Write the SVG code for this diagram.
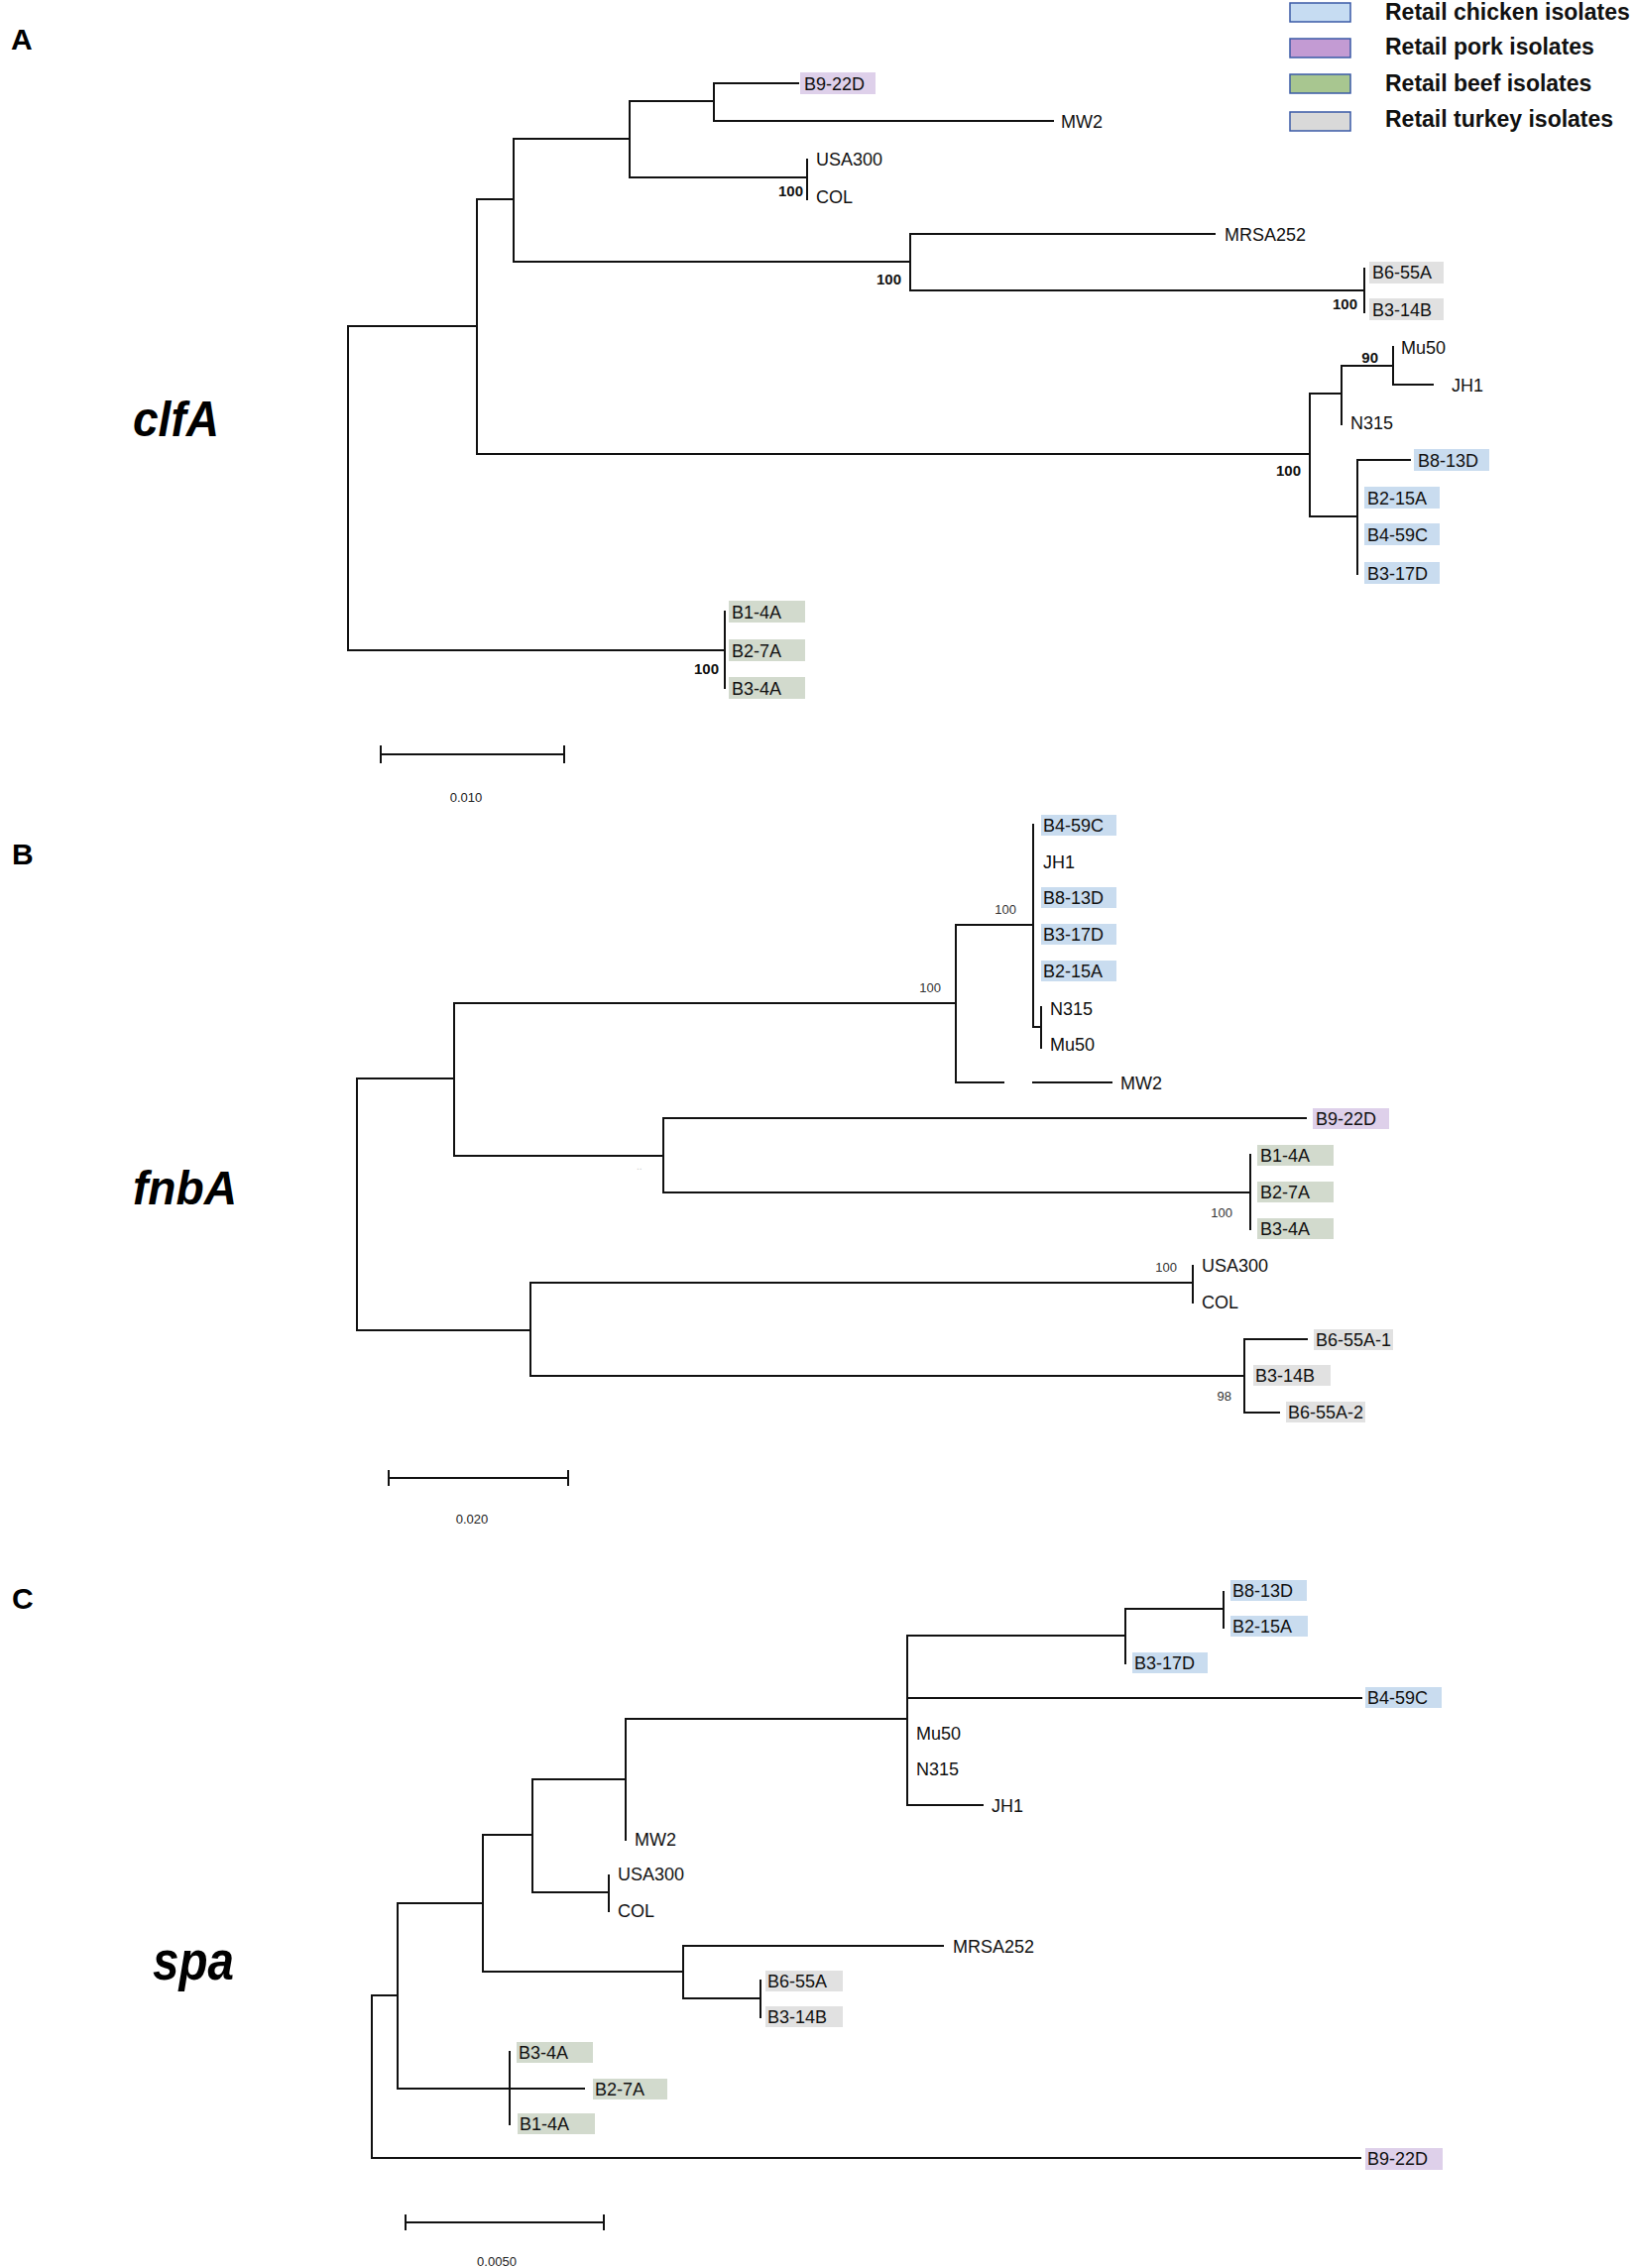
<svg xmlns="http://www.w3.org/2000/svg" width="1650" height="2288" viewBox="0 0 1650 2288">
<style>
.br{stroke:#111;stroke-width:2;fill:none;stroke-linecap:square}
.lb{font-family:"Liberation Sans",Arial,sans-serif;font-size:18px;fill:#111}
.bsA{font-family:"Liberation Sans",Arial,sans-serif;font-size:15px;font-weight:bold;fill:#111;text-anchor:end}
.bsB{font-family:"Liberation Sans",Arial,sans-serif;font-size:13px;fill:#333;text-anchor:end}
.sc{font-family:"Liberation Sans",Arial,sans-serif;font-size:13px;fill:#222;text-anchor:middle}
.pl{font-family:"Liberation Sans",Arial,sans-serif;font-size:30px;font-weight:bold;fill:#000}
.gn{font-family:"Liberation Sans",Arial,sans-serif;font-weight:bold;font-style:italic;fill:#000}
.lg{font-family:"Liberation Sans",Arial,sans-serif;font-size:23px;font-weight:bold;fill:#111}
.ck{fill:#c9dcef}.pk{fill:#ded0ea}.bf{fill:#d2dacd}.tk{fill:#e1e1e1}
.lgb{stroke:#3a5aa6;stroke-width:1.5}
</style>
<rect width="1650" height="2288" fill="#fff"/>

<g id="legend">
<rect class="lgb" x="1301" y="3" width="61" height="19" fill="#c6dcf2"/>
<text class="lg" x="1397" y="20">Retail chicken isolates</text>
<rect class="lgb" x="1301" y="39" width="61" height="19" fill="#c39bd3"/>
<text class="lg" x="1397" y="55">Retail pork isolates</text>
<rect class="lgb" x="1301" y="75" width="61" height="19" fill="#a8c690"/>
<text class="lg" x="1397" y="92">Retail beef isolates</text>
<rect class="lgb" x="1301" y="113" width="61" height="19" fill="#d9d9d9"/>
<text class="lg" x="1397" y="128">Retail turkey isolates</text>
</g>

<!-- Panel A -->
<g id="panelA">
<text class="pl" x="11" y="50">A</text>
<text class="gn" x="134" y="440" font-size="50" textLength="87" lengthAdjust="spacingAndGlyphs">clfA</text>
<g id="connectorsA">
<path class="br" d="M351 329V656M351 329H481M351 656H731M481 201V458M481 201H518M481 458H1321M518 140V264M518 140H635M518 264H918M635 102V179M635 102H720M635 179H814M720 84V122M720 84H805M720 122H1062M814 161V201M918 236V293M918 236H1225M918 293H1376M1376 271V315M1321 397V521M1321 397H1353M1321 521H1369M1353 369V428M1353 369H1405M1405 350V388M1405 388H1445M1369 464V579M1369 464H1422M731 617V694"/>
<path class="br" d="M384 761H569M384 753V769M569 753V769"/>
</g>
<text class="sc" x="470" y="809">0.010</text>
<g id="A-bootstrap">
<text class="bsA" x="810" y="198">100</text>
<text class="bsA" x="909" y="287">100</text>
<text class="bsA" x="1369" y="312">100</text>
<text class="bsA" x="1390" y="366">90</text>
<text class="bsA" x="1312" y="480">100</text>
<text class="bsA" x="725" y="680">100</text>
</g>
<g id="A-B9-22D"><rect class="pk" x="807" y="73" width="76" height="22"/><text class="lb" x="811" y="90.5">B9-22D</text></g>
<g id="A-MW2"><text class="lb" x="1070" y="128.5">MW2</text></g>
<g id="A-USA300"><text class="lb" x="823" y="166.5">USA300</text></g>
<g id="A-COL"><text class="lb" x="823" y="204.5">COL</text></g>
<g id="A-MRSA252"><text class="lb" x="1235" y="242.5">MRSA252</text></g>
<g id="A-B6-55A"><rect class="tk" x="1381" y="264" width="75" height="22"/><text class="lb" x="1384" y="280.5">B6-55A</text></g>
<g id="A-B3-14B"><rect class="tk" x="1381" y="301" width="75" height="22"/><text class="lb" x="1384" y="318.5">B3-14B</text></g>
<g id="A-Mu50"><text class="lb" x="1413" y="356.5">Mu50</text></g>
<g id="A-JH1"><text class="lb" x="1464" y="394.5">JH1</text></g>
<g id="A-N315"><text class="lb" x="1362" y="432.5">N315</text></g>
<g id="A-B8-13D"><rect class="ck" x="1426" y="453" width="76" height="22"/><text class="lb" x="1430" y="470.5">B8-13D</text></g>
<g id="A-B2-15A"><rect class="ck" x="1376" y="491" width="76" height="22"/><text class="lb" x="1379" y="508.5">B2-15A</text></g>
<g id="A-B4-59C"><rect class="ck" x="1376" y="528" width="76" height="22"/><text class="lb" x="1379" y="545.5">B4-59C</text></g>
<g id="A-B3-17D"><rect class="ck" x="1376" y="567" width="76" height="22"/><text class="lb" x="1379" y="584.5">B3-17D</text></g>
<g id="A-B1-4A"><rect class="bf" x="735" y="606" width="77" height="22"/><text class="lb" x="738" y="623.5">B1-4A</text></g>
<g id="A-B2-7A"><rect class="bf" x="735" y="645" width="77" height="22"/><text class="lb" x="738" y="662.5">B2-7A</text></g>
<g id="A-B3-4A"><rect class="bf" x="735" y="683" width="77" height="22"/><text class="lb" x="738" y="700.5">B3-4A</text></g>
</g>

<!-- Panel B -->
<g id="panelB">
<text class="pl" x="12" y="872">B</text>
<text class="gn" x="134" y="1215" font-size="48" textLength="105" lengthAdjust="spacingAndGlyphs">fnbA</text>
<g id="connectorsB">
<path class="br" d="M360 1088V1342M360 1088H458M360 1342H535M458 1012V1166M458 1012H964M458 1166H669M964 933V1092M964 933H1042M964 1092H1012M1042 1092H1121M1042 832V1036M1042 1036H1050M1050 1016V1057M669 1128V1203M669 1128H1317M669 1203H1261M1261 1165V1240M535 1294V1388M535 1294H1203M535 1388H1255M1203 1277V1314M1255 1351V1425M1255 1351H1318M1255 1425H1290"/>
<path class="br" d="M392 1491H573M392 1484V1498M573 1484V1498"/>
</g>
<text class="sc" x="476" y="1537">0.020</text>
<g id="B-bootstrap">
<text class="bsB" x="949" y="1001">100</text>
<text class="bsB" x="1025" y="922">100</text>
<text class="bsB" x="1243" y="1228">100</text>
<text class="bsB" x="1187" y="1283">100</text>
<text class="bsB" x="1242" y="1413">98</text>
<text x="642" y="1180" font-family="Liberation Sans, sans-serif" font-size="10" fill="#c8c8c8">..</text>
</g>
<g id="B-B4-59C"><rect class="ck" x="1050" y="822" width="76" height="21"/><text class="lb" x="1052" y="838.5">B4-59C</text></g>
<g id="B-JH1"><text class="lb" x="1052" y="875.5">JH1</text></g>
<g id="B-B8-13D"><rect class="ck" x="1050" y="895" width="76" height="21"/><text class="lb" x="1052" y="911.5">B8-13D</text></g>
<g id="B-B3-17D"><rect class="ck" x="1050" y="932" width="76" height="21"/><text class="lb" x="1052" y="948.5">B3-17D</text></g>
<g id="B-B2-15A"><rect class="ck" x="1050" y="969" width="76" height="21"/><text class="lb" x="1052" y="985.5">B2-15A</text></g>
<g id="B-N315"><text class="lb" x="1059" y="1023.5">N315</text></g>
<g id="B-Mu50"><text class="lb" x="1059" y="1059.5">Mu50</text></g>
<g id="B-MW2"><text class="lb" x="1130" y="1098.5">MW2</text></g>
<g id="B-B9-22D"><rect class="pk" x="1324" y="1118" width="77" height="21"/><text class="lb" x="1327" y="1134.5">B9-22D</text></g>
<g id="B-B1-4A"><rect class="bf" x="1268" y="1155" width="77" height="21"/><text class="lb" x="1271" y="1171.5">B1-4A</text></g>
<g id="B-B2-7A"><rect class="bf" x="1268" y="1192" width="77" height="21"/><text class="lb" x="1271" y="1208.5">B2-7A</text></g>
<g id="B-B3-4A"><rect class="bf" x="1268" y="1229" width="77" height="21"/><text class="lb" x="1271" y="1245.5">B3-4A</text></g>
<g id="B-USA300"><text class="lb" x="1212" y="1282.5">USA300</text></g>
<g id="B-COL"><text class="lb" x="1212" y="1319.5">COL</text></g>
<g id="B-B6-55A-1"><rect class="tk" x="1325" y="1341" width="80" height="21"/><text class="lb" x="1327" y="1357.5">B6-55A-1</text></g>
<g id="B-B3-14B"><rect class="tk" x="1264" y="1377" width="78" height="21"/><text class="lb" x="1266" y="1393.5">B3-14B</text></g>
<g id="B-B6-55A-2"><rect class="tk" x="1297" y="1414" width="80" height="21"/><text class="lb" x="1299" y="1430.5">B6-55A-2</text></g>
</g>

<!-- Panel C -->
<g id="panelC">
<text class="pl" x="12" y="1623">C</text>
<text class="gn" x="154" y="1997" font-size="56" textLength="82" lengthAdjust="spacingAndGlyphs">spa</text>
<g id="connectorsC">
<path class="br" d="M375 2013V2177M375 2013H401M375 2177H1372M401 1920V2107M401 1920H487M401 2107H589M487 1851V1989M487 1851H537M487 1989H689M537 1795V1909M537 1795H631M537 1909H614M631 1734V1856M631 1734H915M915 1650V1821M915 1650H1135M915 1713H1373M915 1821H991M1135 1623V1678M1135 1623H1234M1234 1606V1642M614 1892V1928M689 1963V2016M689 1963H951M689 2016H767M767 1998V2035M514 2070V2143"/>
<path class="br" d="M409 2242H609M409 2235V2249M609 2235V2249"/>
</g>
<text class="sc" x="501" y="2286">0.0050</text>
<g id="C-B8-13D"><rect class="ck" x="1241" y="1594" width="77" height="21"/><text class="lb" x="1243" y="1610.5">B8-13D</text></g>
<g id="C-B2-15A"><rect class="ck" x="1241" y="1630" width="78" height="21"/><text class="lb" x="1243" y="1646.5">B2-15A</text></g>
<g id="C-B3-17D"><rect class="ck" x="1142" y="1667" width="76" height="21"/><text class="lb" x="1144" y="1683.5">B3-17D</text></g>
<g id="C-B4-59C"><rect class="ck" x="1377" y="1702" width="77" height="21"/><text class="lb" x="1379" y="1718.5">B4-59C</text></g>
<g id="C-Mu50"><text class="lb" x="924" y="1754.5">Mu50</text></g>
<g id="C-N315"><text class="lb" x="924" y="1790.5">N315</text></g>
<g id="C-JH1"><text class="lb" x="1000" y="1827.5">JH1</text></g>
<g id="C-MW2"><text class="lb" x="640" y="1861.5">MW2</text></g>
<g id="C-USA300"><text class="lb" x="623" y="1896.5">USA300</text></g>
<g id="C-COL"><text class="lb" x="623" y="1933.5">COL</text></g>
<g id="C-MRSA252"><text class="lb" x="961" y="1969.5">MRSA252</text></g>
<g id="C-B6-55A"><rect class="tk" x="772" y="1988" width="78" height="21"/><text class="lb" x="774" y="2004.5">B6-55A</text></g>
<g id="C-B3-14B"><rect class="tk" x="772" y="2024" width="78" height="21"/><text class="lb" x="774" y="2040.5">B3-14B</text></g>
<g id="C-B3-4A"><rect class="bf" x="521" y="2060" width="77" height="21"/><text class="lb" x="523" y="2076.5">B3-4A</text></g>
<g id="C-B2-7A"><rect class="bf" x="598" y="2097" width="75" height="21"/><text class="lb" x="600" y="2113.5">B2-7A</text></g>
<g id="C-B1-4A"><rect class="bf" x="522" y="2132" width="78" height="21"/><text class="lb" x="524" y="2148.5">B1-4A</text></g>
<g id="C-B9-22D"><rect class="pk" x="1377" y="2167" width="78" height="22"/><text class="lb" x="1379" y="2184">B9-22D</text></g>
</g>
</svg>
